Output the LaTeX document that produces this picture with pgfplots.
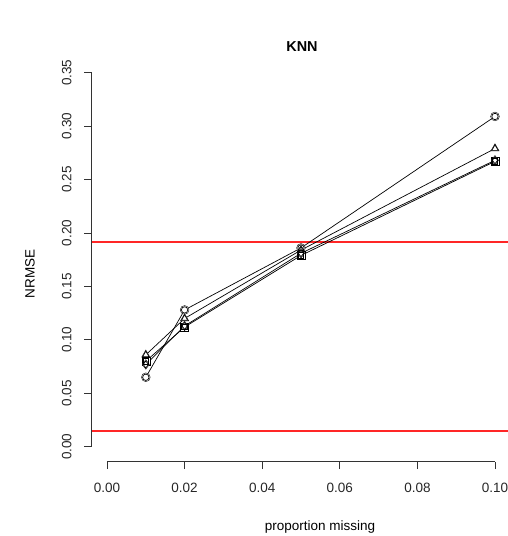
\documentclass[border=0pt]{standalone}
\usepackage{pgfplots}
\pgfplotsset{compat=1.18}
\usepackage{fontspec}
\setmainfont{Liberation Sans}
\begin{document}
\begin{tikzpicture}
\begin{axis}[
  at={(91.5pt,74.3pt)}, anchor=south west,
  scale only axis, width=419pt, height=404pt,
  xmin=-0.004, xmax=0.104, ymin=-0.014, ymax=0.364,
  axis line style={draw=none},
  xtick pos=left, ytick pos=left,
  tick align=outside, major tick length=7.5pt,
  tick style={black!80, line width=0.8pt},
  xtick={0,0.02,0.04,0.06,0.08,0.1},
  xticklabels={0.00,0.02,0.04,0.06,0.08,0.10},
  ytick={0,0.05,0.1,0.15,0.2,0.25,0.3,0.35},
  yticklabels={0.00,0.05,0.10,0.15,0.20,0.25,0.30,0.35},
  ticklabel style={font=\fontsize{13.5}{16}\selectfont, text=black!85},
  xticklabel style={anchor=north, yshift=-10pt},
  yticklabel style={rotate=90, anchor=south, yshift=9pt},
  clip=true,
]
% red reference lines
\addplot[color=red!85!white, line width=1.6pt, no marks] coordinates {(-0.004,0.1918) (0.104,0.1918)};
\addplot[color=red!85!white, line width=1.6pt, no marks] coordinates {(-0.004,0.0147) (0.104,0.0147)};
% series lines
\addplot[black, line width=0.7pt, no marks] coordinates {(0.01,0.065) (0.02,0.128) (0.05,0.186) (0.10,0.309)};
\addplot[black, line width=0.7pt, no marks] coordinates {(0.01,0.086) (0.02,0.120) (0.05,0.184) (0.10,0.279)};
\addplot[black, line width=0.7pt, no marks] coordinates {(0.01,0.080) (0.02,0.112) (0.05,0.179) (0.10,0.267)};
\addplot[black, line width=0.7pt, no marks] coordinates {(0.01,0.077) (0.02,0.113) (0.05,0.181) (0.10,0.268)};
% marker backgrounds (gap like R type b)
\addplot[only marks, mark=*, mark size=4.4pt, mark options={draw=none, fill=white}] coordinates {(0.01,0.065) (0.02,0.128) (0.05,0.186) (0.10,0.309)};
\addplot[only marks, mark=triangle*, mark size=4.8pt, mark options={draw=none, fill=white}] coordinates {(0.01,0.086) (0.02,0.120) (0.05,0.184) (0.10,0.279)};
\addplot[only marks, mark=square*, mark size=4pt, mark options={draw=none, fill=white}] coordinates {(0.01,0.080) (0.02,0.112) (0.05,0.179) (0.10,0.267)};
\addplot[only marks, mark=diamond*, mark size=4.8pt, mark options={draw=none, fill=white}] coordinates {(0.01,0.077) (0.02,0.113) (0.05,0.181) (0.10,0.268)};
% marker outlines
\addplot[only marks, mark=o, mark size=3.2pt, mark options={black, line width=0.7pt}] coordinates {(0.01,0.065) (0.02,0.128) (0.05,0.186) (0.10,0.309)};
\addplot[only marks, mark=triangle, mark size=3.7pt, mark options={black, line width=0.7pt}] coordinates {(0.01,0.086) (0.02,0.120) (0.05,0.184) (0.10,0.279)};
\addplot[only marks, mark=square, mark size=2.8pt, mark options={black, line width=0.7pt}] coordinates {(0.01,0.080) (0.02,0.112) (0.05,0.179) (0.10,0.267)};
\addplot[only marks, mark=diamond, mark size=3.5pt, mark options={black, line width=0.7pt}] coordinates {(0.01,0.077) (0.02,0.113) (0.05,0.181) (0.10,0.268)};
\end{axis}
% R-style axis lines (only from first to last tick)
\draw[black!80, line width=0.8pt] (107pt,74.3pt) -- (495pt,74.3pt);
\draw[black!80, line width=0.8pt] (91.5pt,89.3pt) -- (91.5pt,463.3pt);
\node[font=\bfseries\fontsize{14.4}{17}\selectfont] at (302pt,489pt) {KNN};
\node[font=\fontsize{13.5}{16}\selectfont] at (320pt,9pt) {proportion missing};
\node[font=\fontsize{13.5}{16}\selectfont, rotate=90] at (30pt,262pt) {NRMSE};
\pgfresetboundingbox
\path[use as bounding box] (0pt,0pt) rectangle (507pt,536pt);
\end{tikzpicture}
\end{document}
